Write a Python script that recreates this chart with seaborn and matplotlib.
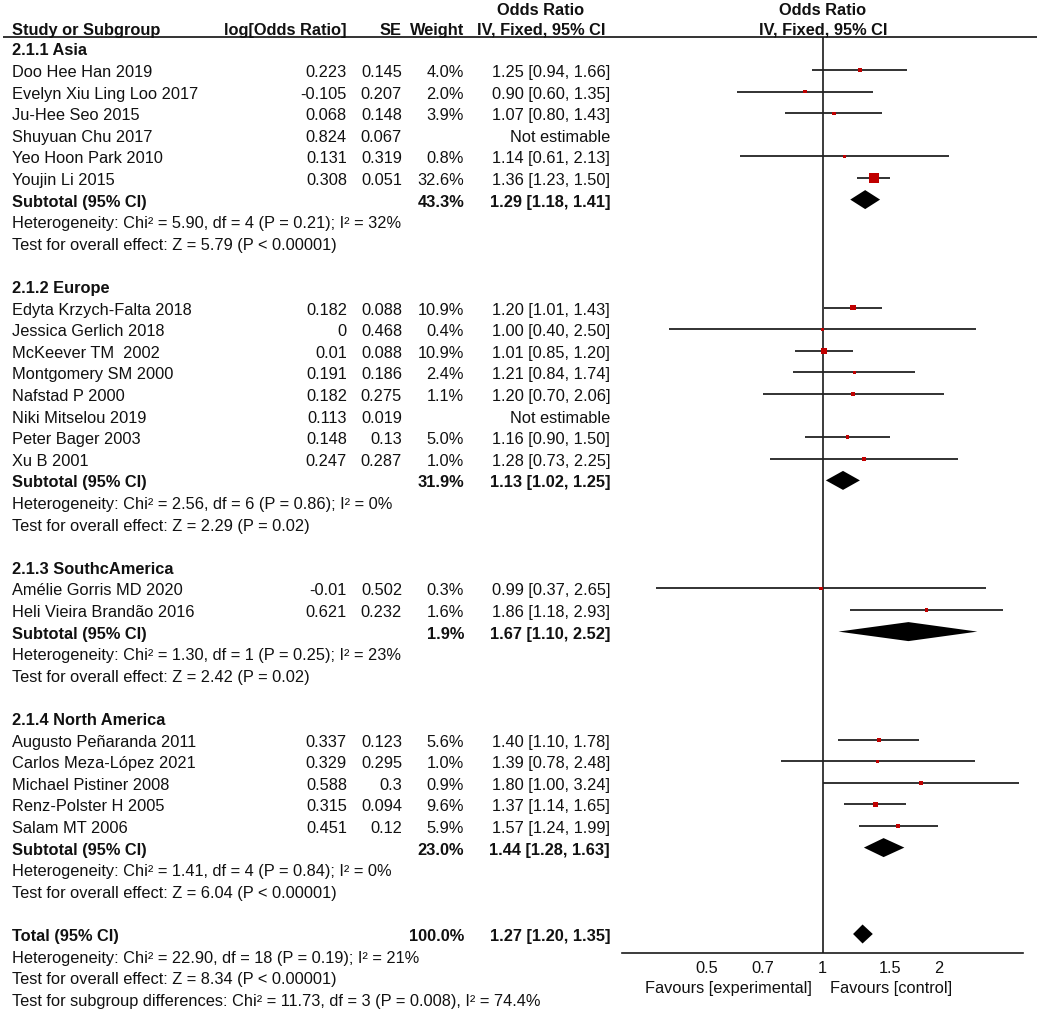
import matplotlib
matplotlib.use('Agg')
import matplotlib.pyplot as plt
from matplotlib.ticker import NullLocator
import numpy as np
import pandas as pd
import seaborn as sns

sns.set_style("white")
plt.rcParams['font.family'] = ['Liberation Sans', 'DejaVu Sans']

# ---- data ----
group_titles = ["2.1.1 Asia", "2.1.2 Europe", "2.1.3 SouthcAmerica", "2.1.4 North America"]

asia_names = ["Doo Hee Han 2019", "Evelyn Xiu Ling Loo 2017", "Ju-Hee Seo 2015",
              "Shuyuan Chu 2017", "Yeo Hoon Park 2010", "Youjin Li 2015"]
asia_logor = ["0.223", "-0.105", "0.068", "0.824", "0.131", "0.308"]
asia_se = ["0.145", "0.207", "0.148", "0.067", "0.319", "0.051"]
asia_weight = [4.0, 2.0, 3.9, None, 0.8, 32.6]
asia_or = [1.25, 0.90, 1.07, None, 1.14, 1.36]
asia_lo = [0.94, 0.60, 0.80, None, 0.61, 1.23]
asia_hi = [1.66, 1.35, 1.43, None, 2.13, 1.50]

europe_names = ["Edyta Krzych-Falta 2018", "Jessica Gerlich 2018", "McKeever TM  2002",
                "Montgomery SM 2000", "Nafstad P 2000", "Niki Mitselou 2019",
                "Peter Bager 2003", "Xu B 2001"]
europe_logor = ["0.182", "0", "0.01", "0.191", "0.182", "0.113", "0.148", "0.247"]
europe_se = ["0.088", "0.468", "0.088", "0.186", "0.275", "0.019", "0.13", "0.287"]
europe_weight = [10.9, 0.4, 10.9, 2.4, 1.1, None, 5.0, 1.0]
europe_or = [1.20, 1.00, 1.01, 1.21, 1.20, None, 1.16, 1.28]
europe_lo = [1.01, 0.40, 0.85, 0.84, 0.70, None, 0.90, 0.73]
europe_hi = [1.43, 2.50, 1.20, 1.74, 2.06, None, 1.50, 2.25]

sa_names = ["Amélie Gorris MD 2020", "Heli Vieira Brandão 2016"]
sa_logor = ["-0.01", "0.621"]
sa_se = ["0.502", "0.232"]
sa_weight = [0.3, 1.6]
sa_or = [0.99, 1.86]
sa_lo = [0.37, 1.18]
sa_hi = [2.65, 2.93]

na_names = ["Augusto Peñaranda 2011", "Carlos Meza-López 2021", "Michael Pistiner 2008",
            "Renz-Polster H 2005", "Salam MT 2006"]
na_logor = ["0.337", "0.329", "0.588", "0.315", "0.451"]
na_se = ["0.123", "0.295", "0.3", "0.094", "0.12"]
na_weight = [5.6, 1.0, 0.9, 9.6, 5.9]
na_or = [1.40, 1.39, 1.80, 1.37, 1.57]
na_lo = [1.10, 0.78, 1.00, 1.14, 1.24]
na_hi = [1.78, 2.48, 3.24, 1.65, 1.99]

sub_weight = [43.3, 31.9, 1.9, 23.0]
sub_or = [1.29, 1.13, 1.67, 1.44]
sub_lo = [1.18, 1.02, 1.10, 1.28]
sub_hi = [1.41, 1.25, 2.52, 1.63]
sub_het = ["Heterogeneity: Chi² = 5.90, df = 4 (P = 0.21); I² = 32%",
           "Heterogeneity: Chi² = 2.56, df = 6 (P = 0.86); I² = 0%",
           "Heterogeneity: Chi² = 1.30, df = 1 (P = 0.25); I² = 23%",
           "Heterogeneity: Chi² = 1.41, df = 4 (P = 0.84); I² = 0%"]
sub_test = ["Test for overall effect: Z = 5.79 (P < 0.00001)",
            "Test for overall effect: Z = 2.29 (P = 0.02)",
            "Test for overall effect: Z = 2.42 (P = 0.02)",
            "Test for overall effect: Z = 6.04 (P < 0.00001)"]

total_weight = 100.0
total_or, total_lo, total_hi = 1.27, 1.20, 1.35
total_het = "Heterogeneity: Chi² = 22.90, df = 18 (P = 0.19); I² = 21%"
total_test = "Test for overall effect: Z = 8.34 (P < 0.00001)"
total_subdiff = "Test for subgroup differences: Chi² = 11.73, df = 3 (P = 0.008), I² = 74.4%"

tick_vals = [0.5, 0.7, 1, 1.5, 2]
tick_labels = ["0.5", "0.7", "1", "1.5", "2"]

groups = [
    (asia_names, asia_logor, asia_se, asia_weight, asia_or, asia_lo, asia_hi),
    (europe_names, europe_logor, europe_se, europe_weight, europe_or, europe_lo, europe_hi),
    (sa_names, sa_logor, sa_se, sa_weight, sa_or, sa_lo, sa_hi),
    (na_names, na_logor, na_se, na_weight, na_or, na_lo, na_hi),
]

# ---- layout (pixels of a 1040x1009 canvas) ----
W, H = 1040, 1009
row0, dy = 48.4, 21.6
def px2row(p):
    return (p - row0) / dy

X_NAME, X_LOG, X_SE, X_W, X_CI = 12, 347, 402, 464, 610
X_HDR_L, X_HDR_R = 541, 823
FS = 11.8
TOFF = 0.12   # body text sits a little below the marks

fig = plt.figure(figsize=(W / 100, H / 100), dpi=100)
ax_t = fig.add_axes([0, 0, 1, 1])
ax_t.set_xlim(0, W)
ax_t.set_ylim(px2row(H), px2row(0))
ax_t.axis('off')

ax_f = fig.add_axes([622 / W, 1 - 953 / H, 401 / W, (953 - 37) / H])
ax_f.set_xscale('log')
ax_f.set_xlim(0.302, 3.31)
ax_f.set_ylim(px2row(953), px2row(37))
ax_f.patch.set_alpha(0)

def txt(x, r, s, ha='left', bold=False, off=TOFF):
    ax_t.text(x, r + off, s, ha=ha, va='center', fontsize=FS,
              fontweight='bold' if bold else 'normal', color='#111111')

# header
hr = px2row(30)
txt(X_NAME, hr, "Study or Subgroup", bold=True, off=0)
txt(X_LOG, hr, "log[Odds Ratio]", ha='right', bold=True, off=0)
txt(X_SE, hr, "SE", ha='right', bold=True, off=0)
txt(X_W, hr, "Weight", ha='right', bold=True, off=0)
txt(X_HDR_L, px2row(10), "Odds Ratio", ha='center', bold=True, off=0)
txt(X_HDR_L, hr, "IV, Fixed, 95% CI", ha='center', bold=True, off=0)
txt(X_HDR_R, px2row(10), "Odds Ratio", ha='center', bold=True, off=0)
txt(X_HDR_R, hr, "IV, Fixed, 95% CI", ha='center', bold=True, off=0)
ax_t.hlines(px2row(37), 3, 1037, color='#333333', lw=1.4)

studies = []
diamonds = []
r = 0
for gi, (names, logor, se, wt, orv, lo, hi) in enumerate(groups):
    txt(X_NAME, r, group_titles[gi], bold=True)
    r += 1
    for i in range(len(names)):
        txt(X_NAME, r, names[i])
        txt(X_LOG, r, logor[i], ha='right')
        txt(X_SE, r, se[i], ha='right')
        if orv[i] is None:
            txt(X_CI, r, "Not estimable", ha='right')
        else:
            txt(X_W, r, "%.1f%%" % wt[i], ha='right')
            txt(X_CI, r, "%.2f [%.2f, %.2f]" % (orv[i], lo[i], hi[i]), ha='right')
            studies.append(dict(row=r, OR=orv[i], lo=lo[i], hi=hi[i], w=wt[i]))
        r += 1
    txt(X_NAME, r, "Subtotal (95% CI)", bold=True)
    txt(X_W, r, "%.1f%%" % sub_weight[gi], ha='right', bold=True)
    txt(X_CI, r, "%.2f [%.2f, %.2f]" % (sub_or[gi], sub_lo[gi], sub_hi[gi]), ha='right', bold=True)
    diamonds.append((r, sub_or[gi], sub_lo[gi], sub_hi[gi]))
    r += 1
    txt(X_NAME, r, sub_het[gi]); r += 1
    txt(X_NAME, r, sub_test[gi]); r += 1
    r += 1

txt(X_NAME, r, "Total (95% CI)", bold=True)
txt(X_W, r, "%.1f%%" % total_weight, ha='right', bold=True)
txt(X_CI, r, "%.2f [%.2f, %.2f]" % (total_or, total_lo, total_hi), ha='right', bold=True)
diamonds.append((r, total_or, total_lo, total_hi))
txt(X_NAME, r + 1, total_het)
txt(X_NAME, r + 2, total_test)
txt(X_NAME, r + 3, total_subdiff)

# ---- forest panel ----
df = pd.DataFrame(studies)
ax_f.axvline(1, color='#1a1a1a', lw=1.2, zorder=1)
ax_f.hlines(df["row"], df["lo"], df["hi"], color='#222222', lw=1.3, zorder=2)
side_px = np.maximum(3.4, 1.66 * np.sqrt(df["w"].to_numpy()))
sizes = (side_px * 72 / 100) ** 2
sns.scatterplot(data=df, x="OR", y="row", marker='s', color='#c00000', s=sizes,
                linewidth=0, legend=False, ax=ax_f, zorder=3)

hh = 0.44
for (dr, o, l, h) in diamonds:
    ax_f.fill([l, o, h, o], [dr, dr - hh, dr, dr + hh], color='black', lw=0, zorder=3)

for s in ['top', 'left', 'right']:
    ax_f.spines[s].set_visible(False)
ax_f.spines['bottom'].set_color('#1a1a1a')
ax_f.spines['bottom'].set_linewidth(1.2)
ax_f.set_yticks([])
ax_f.set_xticks(tick_vals)
ax_f.set_xticklabels(tick_labels)
ax_f.xaxis.set_minor_locator(NullLocator())
ax_f.tick_params(axis='x', direction='in', length=6, width=1.2, color='#1a1a1a',
                 labelsize=FS, pad=6, labelcolor='#111111')
ax_f.set_xlabel("")
ax_f.set_ylabel("")

txt(812, px2row(988), "Favours [experimental]", ha='right', off=0)
txt(830, px2row(988), "Favours [control]", ha='left', off=0)

plt.savefig("out.png", dpi=100)
